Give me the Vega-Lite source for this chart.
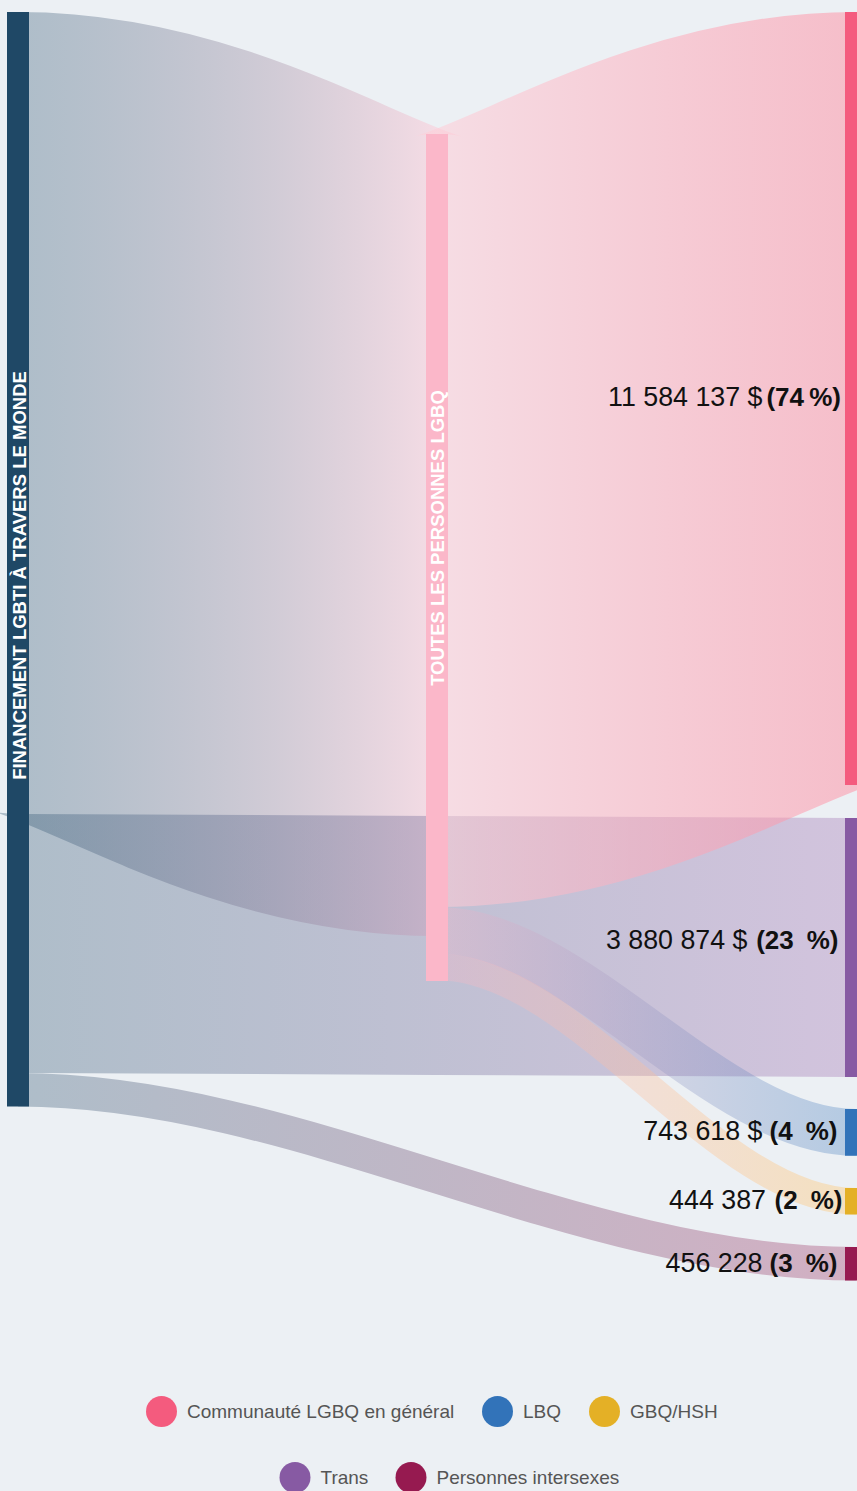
{
  "$schema": "https://vega.github.io/schema/vega-lite/v6.json",
  "width": 857,
  "height": 1491,
  "padding": 0,
  "autosize": {"type": "none"},
  "background": "#ecf0f4",
  "config": {"view": {"stroke": null}, "bar": {"continuousBandSize": 22}},
  "datasets": {
    "links": [
      {"link": "L-M", "stage": 0, "pos": 6188.8, "value": 12018},
      {"link": "L-M", "stage": 0.001, "pos": 6188.8, "value": 12018},
      {"link": "L-M", "stage": 0.999, "pos": 8017.0, "value": 12018},
      {"link": "L-M", "stage": 1, "pos": 8017.0, "value": 12018},
      {"link": "L-T", "stage": 0, "pos": 14138.3, "value": 3881},
      {"link": "L-T", "stage": 0.001, "pos": 14138.3, "value": 3881},
      {"link": "L-T", "stage": 1.999, "pos": 14198.3, "value": 3881},
      {"link": "L-T", "stage": 2, "pos": 14198.3, "value": 3881},
      {"link": "L-I", "stage": 0, "pos": 16329.9, "value": 502},
      {"link": "L-I", "stage": 0.001, "pos": 16329.9, "value": 502},
      {"link": "L-I", "stage": 1.999, "pos": 18937.3, "value": 502},
      {"link": "L-I", "stage": 2, "pos": 18937.3, "value": 502},
      {"link": "M-P", "stage": 1, "pos": 7799.7, "value": 11584},
      {"link": "M-P", "stage": 1.001, "pos": 7799.7, "value": 11584},
      {"link": "M-P", "stage": 1.999, "pos": 5971.5, "value": 11584},
      {"link": "M-P", "stage": 2, "pos": 5971.5, "value": 11584},
      {"link": "M-B", "stage": 1, "pos": 13941.3, "value": 700},
      {"link": "M-B", "stage": 1.001, "pos": 13941.3, "value": 700},
      {"link": "M-B", "stage": 1.999, "pos": 16968.3, "value": 700},
      {"link": "M-B", "stage": 2, "pos": 16968.3, "value": 700},
      {"link": "M-G", "stage": 1, "pos": 14489.7, "value": 397},
      {"link": "M-G", "stage": 1.001, "pos": 14489.7, "value": 397},
      {"link": "M-G", "stage": 1.999, "pos": 18000.7, "value": 397},
      {"link": "M-G", "stage": 2, "pos": 18000.7, "value": 397}
    ],
    "nodes": [
      {"id": "L", "name": "FINANCEMENT LGBTI À TRAVERS LE MONDE", "stage": 0, "y0": 179.8, "y1": 16580.9, "amount": "", "pct": ""},
      {"id": "M", "name": "TOUTES LES PERSONNES LGBQ", "stage": 1, "y0": 2008.0, "y1": 14700.3, "amount": "", "pct": ""},
      {"id": "P", "name": "Communauté LGBQ en général", "stage": 2, "y0": 179.8, "y1": 11763.2, "amount": "11 584 137 $", "pct": "(74\u2009%)"},
      {"id": "T", "name": "Trans", "stage": 2, "y0": 12257.7, "y1": 16138.8, "amount": "3 880 874 $", "pct": "(23\u2002%)"},
      {"id": "B", "name": "LBQ", "stage": 2, "y0": 16618.4, "y1": 17318.1, "amount": "743 618 $", "pct": "(4\u2002%)"},
      {"id": "G", "name": "GBQ/HSH", "stage": 2, "y0": 17802.2, "y1": 18199.3, "amount": "444 387", "pct": "(2\u2002%)"},
      {"id": "I", "name": "Personnes intersexes", "stage": 2, "y0": 18686.3, "y1": 19188.3, "amount": "456 228", "pct": "(3\u2002%)"}
    ]
  },
  "resolve": {"scale": {"color": "independent"}},
  "layer": [
    {
      "data": {"name": "links"},
      "transform": [{"filter": "datum.link == 'L-M'"}],
      "mark": {"type": "line", "interpolate": "monotone", "strokeCap": "butt",
        "stroke": {"gradient": "linear", "x1": 0, "y1": 0, "x2": 1, "y2": 0, "stops": [{"offset": 0, "color": "rgba(31,72,102,0.3)"}, {"offset": 1, "color": "rgba(255,195,210,0.45)"}]}},
      "encoding": {
        "x": {"field": "stage", "type": "quantitative", "scale": {"domain": [-0.04296, 2.00239], "nice": false, "zero": false, "padding": 0}, "axis": null},
        "y": {"field": "pos", "type": "quantitative", "scale": {"domain": [0, 22342.6], "reverse": true, "nice": false, "zero": false, "padding": 0}, "axis": null},
        "strokeWidth": {"field": "value", "type": "quantitative", "scale": {"type": "linear", "domain": [0, 14985], "range": [0, 1000], "zero": true, "nice": false}, "legend": null}
      }
    },
    {
      "data": {"name": "links"},
      "transform": [{"filter": "datum.link == 'L-T'"}],
      "mark": {"type": "line", "interpolate": "monotone", "strokeCap": "butt",
        "stroke": {"gradient": "linear", "x1": 0, "y1": 0, "x2": 1, "y2": 0, "stops": [{"offset": 0, "color": "rgba(31,72,102,0.3)"}, {"offset": 1, "color": "rgba(150,92,168,0.3)"}]}},
      "encoding": {
        "x": {"field": "stage", "type": "quantitative", "axis": null},
        "y": {"field": "pos", "type": "quantitative", "axis": null},
        "strokeWidth": {"field": "value", "type": "quantitative", "legend": null}
      }
    },
    {
      "data": {"name": "links"},
      "transform": [{"filter": "datum.link == 'L-I'"}],
      "mark": {"type": "line", "interpolate": "monotone", "strokeCap": "butt",
        "stroke": {"gradient": "linear", "x1": 0, "y1": 0, "x2": 1, "y2": 0, "stops": [{"offset": 0, "color": "rgba(31,72,102,0.3)"}, {"offset": 1, "color": "rgba(150,26,80,0.3)"}]}},
      "encoding": {
        "x": {"field": "stage", "type": "quantitative", "axis": null},
        "y": {"field": "pos", "type": "quantitative", "axis": null},
        "strokeWidth": {"field": "value", "type": "quantitative", "legend": null}
      }
    },
    {
      "data": {"name": "links"},
      "transform": [{"filter": "datum.link == 'M-P'"}],
      "mark": {"type": "line", "interpolate": "monotone", "strokeCap": "butt",
        "stroke": {"gradient": "linear", "x1": 0, "y1": 0, "x2": 1, "y2": 0, "stops": [{"offset": 0, "color": "rgba(255,205,215,0.55)"}, {"offset": 1, "color": "rgba(255,140,160,0.5)"}]}},
      "encoding": {
        "x": {"field": "stage", "type": "quantitative", "axis": null},
        "y": {"field": "pos", "type": "quantitative", "axis": null},
        "strokeWidth": {"field": "value", "type": "quantitative", "legend": null}
      }
    },
    {
      "data": {"name": "links"},
      "transform": [{"filter": "datum.link == 'M-B'"}],
      "mark": {"type": "line", "interpolate": "monotone", "strokeCap": "butt",
        "stroke": {"gradient": "linear", "x1": 0, "y1": 0, "x2": 1, "y2": 0, "stops": [{"offset": 0, "color": "rgba(251,183,201,0.3)"}, {"offset": 1, "color": "rgba(50,115,185,0.3)"}]}},
      "encoding": {
        "x": {"field": "stage", "type": "quantitative", "axis": null},
        "y": {"field": "pos", "type": "quantitative", "axis": null},
        "strokeWidth": {"field": "value", "type": "quantitative", "legend": null}
      }
    },
    {
      "data": {"name": "links"},
      "transform": [{"filter": "datum.link == 'M-G'"}],
      "mark": {"type": "line", "interpolate": "monotone", "strokeCap": "butt",
        "stroke": {"gradient": "linear", "x1": 0, "y1": 0, "x2": 1, "y2": 0, "stops": [{"offset": 0, "color": "rgba(251,183,201,0.3)"}, {"offset": 1, "color": "rgba(255,200,110,0.4)"}]}},
      "encoding": {
        "x": {"field": "stage", "type": "quantitative", "axis": null},
        "y": {"field": "pos", "type": "quantitative", "axis": null},
        "strokeWidth": {"field": "value", "type": "quantitative", "legend": null}
      }
    },
    {
      "data": {"name": "nodes"},
      "transform": [{"filter": "datum.id == 'L'"}],
      "mark": {"type": "bar", "size": 22, "color": "#1f4866", "orient": "vertical"},
      "encoding": {
        "x": {"field": "stage", "type": "quantitative", "axis": null},
        "y": {"field": "y0", "type": "quantitative", "axis": null},
        "y2": {"field": "y1"}
      }
    },
    {
      "data": {"name": "nodes"},
      "transform": [{"filter": "datum.id == 'M'"}],
      "mark": {"type": "bar", "size": 22, "color": "#fbb7c9", "orient": "vertical"},
      "encoding": {
        "x": {"field": "stage", "type": "quantitative", "axis": null},
        "y": {"field": "y0", "type": "quantitative", "axis": null},
        "y2": {"field": "y1"}
      }
    },
    {
      "data": {"name": "nodes"},
      "transform": [{"filter": "datum.id == 'P' || datum.id == 'B' || datum.id == 'G'"}],
      "mark": {"type": "bar", "size": 22, "orient": "vertical", "opacity": 1},
      "encoding": {
        "x": {"field": "stage", "type": "quantitative", "axis": null},
        "y": {"field": "y0", "type": "quantitative", "axis": null},
        "y2": {"field": "y1"},
        "color": {"field": "name", "type": "nominal",
          "scale": {"domain": ["Communauté LGBQ en général", "LBQ", "GBQ/HSH"], "range": ["#f45b7e", "#3273b9", "#e4b026"]},
          "legend": {"title": null, "orient": "none", "legendX": 146, "legendY": 1396, "direction": "horizontal",
            "symbolType": "circle", "symbolSize": 960, "symbolStrokeWidth": 0, "symbolOpacity": 1,
            "labelFont": "Liberation Sans", "labelFontSize": 19, "labelColor": "#555555", "labelLimit": 500,
            "labelOffset": 10, "columnPadding": 27, "padding": 0}}
      }
    },
    {
      "data": {"name": "nodes"},
      "transform": [{"filter": "datum.id == 'T' || datum.id == 'I'"}],
      "mark": {"type": "bar", "size": 22, "orient": "vertical", "opacity": 1},
      "encoding": {
        "x": {"field": "stage", "type": "quantitative", "axis": null},
        "y": {"field": "y0", "type": "quantitative", "axis": null},
        "y2": {"field": "y1"},
        "color": {"field": "name", "type": "nominal",
          "scale": {"domain": ["Trans", "Personnes intersexes"], "range": ["#875aa3", "#961a50"]},
          "legend": {"title": null, "orient": "none", "legendX": 279.5, "legendY": 1462, "direction": "horizontal",
            "symbolType": "circle", "symbolSize": 960, "symbolStrokeWidth": 0, "symbolOpacity": 1,
            "labelFont": "Liberation Sans", "labelFontSize": 19, "labelColor": "#555555", "labelLimit": 500,
            "labelOffset": 10, "columnPadding": 27, "padding": 0}}
      }
    },
    {
      "data": {"name": "nodes"},
      "transform": [
        {"fold": ["y0", "y1"], "as": ["edge", "pos"]},
        {"aggregate": [{"op": "mean", "field": "pos", "as": "mid"}], "groupby": ["id", "name", "stage", "amount", "pct"]}
      ],
      "encoding": {
        "x": {"field": "stage", "type": "quantitative", "axis": null},
        "y": {"field": "mid", "type": "quantitative", "axis": null}
      },
      "layer": [
        {"transform": [{"filter": "datum.id == 'L'"}],
         "mark": {"type": "text", "angle": 270, "align": "center", "baseline": "middle", "font": "Liberation Sans", "fontWeight": "bold", "fontSize": 18.5, "color": "#ffffff", "dx": -16.25, "dy": 1.5},
         "encoding": {"text": {"field": "name"}}},
        {"transform": [{"filter": "datum.id == 'M'"}],
         "mark": {"type": "text", "angle": 270, "align": "center", "baseline": "middle", "font": "Liberation Sans", "fontWeight": "bold", "fontSize": 18.5, "color": "#ffffff", "dx": 19.5, "dy": 1.5},
         "encoding": {"text": {"field": "name"}}},
        {"transform": [{"filter": "datum.id == 'P'"}],
         "mark": {"type": "text", "align": "right", "baseline": "middle", "font": "Liberation Sans", "fontWeight": "bold", "fontSize": 26, "color": "#111111", "dx": -15},
         "encoding": {"text": {"field": "pct"}}},
        {"transform": [{"filter": "datum.id == 'P'"}],
         "mark": {"type": "text", "align": "right", "baseline": "middle", "font": "Liberation Sans", "fontSize": 26.8, "color": "#111111", "dx": -93.5},
         "encoding": {"text": {"field": "amount"}}},
        {"transform": [{"filter": "datum.id == 'T'"}],
         "mark": {"type": "text", "align": "right", "baseline": "middle", "font": "Liberation Sans", "fontWeight": "bold", "fontSize": 26, "color": "#111111", "dx": -17.5, "dy": -6},
         "encoding": {"text": {"field": "pct"}}},
        {"transform": [{"filter": "datum.id == 'T'"}],
         "mark": {"type": "text", "align": "right", "baseline": "middle", "font": "Liberation Sans", "fontSize": 26.8, "color": "#111111", "dx": -108.5, "dy": -6},
         "encoding": {"text": {"field": "amount"}}},
        {"transform": [{"filter": "datum.id == 'B'"}],
         "mark": {"type": "text", "align": "right", "baseline": "middle", "font": "Liberation Sans", "fontWeight": "bold", "fontSize": 26, "color": "#111111", "dx": -18.5},
         "encoding": {"text": {"field": "pct"}}},
        {"transform": [{"filter": "datum.id == 'B'"}],
         "mark": {"type": "text", "align": "right", "baseline": "middle", "font": "Liberation Sans", "fontSize": 26.8, "color": "#111111", "dx": -93.5},
         "encoding": {"text": {"field": "amount"}}},
        {"transform": [{"filter": "datum.id == 'G'"}],
         "mark": {"type": "text", "align": "right", "baseline": "middle", "font": "Liberation Sans", "fontWeight": "bold", "fontSize": 26, "color": "#111111", "dx": -13.5},
         "encoding": {"text": {"field": "pct"}}},
        {"transform": [{"filter": "datum.id == 'G'"}],
         "mark": {"type": "text", "align": "right", "baseline": "middle", "font": "Liberation Sans", "fontSize": 26.8, "color": "#111111", "dx": -90},
         "encoding": {"text": {"field": "amount"}}},
        {"transform": [{"filter": "datum.id == 'I'"}],
         "mark": {"type": "text", "align": "right", "baseline": "middle", "font": "Liberation Sans", "fontWeight": "bold", "fontSize": 26, "color": "#111111", "dx": -18.5},
         "encoding": {"text": {"field": "pct"}}},
        {"transform": [{"filter": "datum.id == 'I'"}],
         "mark": {"type": "text", "align": "right", "baseline": "middle", "font": "Liberation Sans", "fontSize": 26.8, "color": "#111111", "dx": -93.5},
         "encoding": {"text": {"field": "amount"}}}
      ]
    }
  ]
}
